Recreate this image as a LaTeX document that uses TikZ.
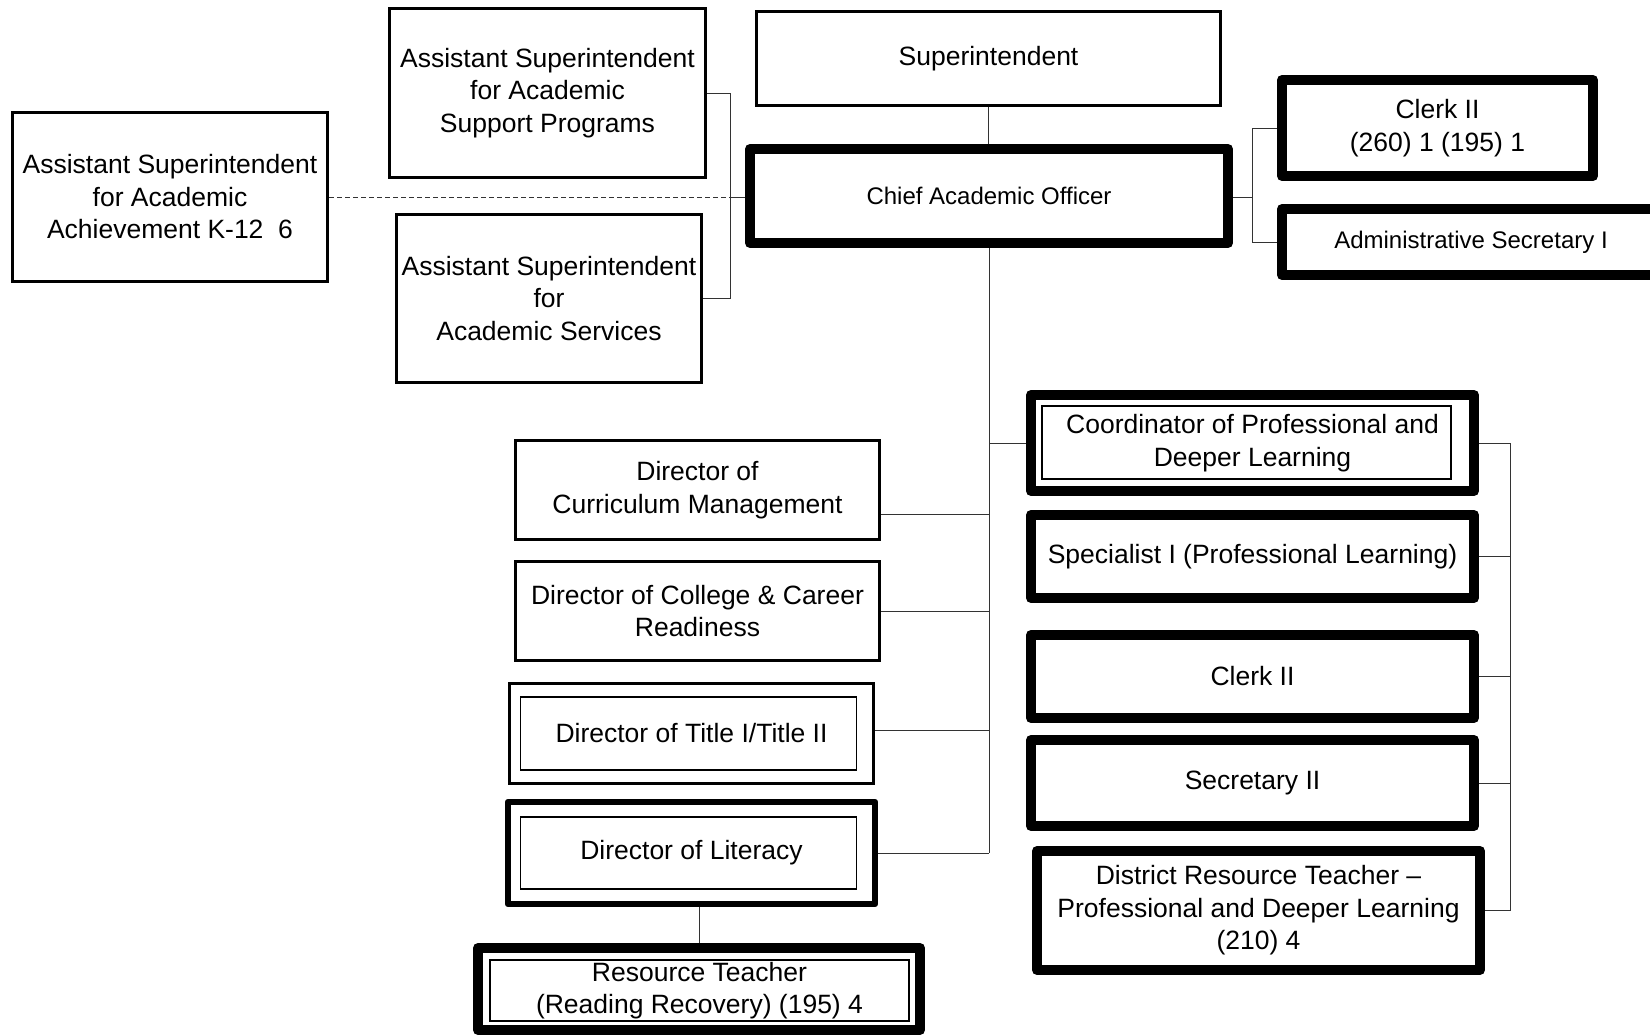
\documentclass[tikz,border=0pt]{standalone}
\usepackage{fontspec}
\setmainfont{Liberation Sans}
\newcommand\bigfnt{\fontsize{26.5}{32.5}\selectfont}
\newcommand\midfnt{\fontsize{24}{29}\selectfont}
\begin{document}
\begin{tikzpicture}[x=1pt,y=-1pt,
  box/.style={draw, inner sep=0pt, align=center, font=\bigfnt},
  thinbox/.style={box, line width=3pt},
  thickbox/.style={box, line width=10pt, line join=round},
  medbox/.style={box, line width=6.5pt, line join=round},
  inbox/.style={box, line width=1.5pt},
  conn/.style={line width=1pt, black!80}]
\useasboundingbox[fill=white] (0,0) rectangle (1650,1036);

% left / top boxes
\node[thinbox, minimum width=315.5pt, minimum height=169pt] (k12) at (170,197) {Assistant Superintendent\\for Academic\\Achievement K-12\ \ 6};
\node[thinbox, minimum width=316pt, minimum height=169pt] (assp) at (547.5,93) {Assistant Superintendent\\for Academic\\Support Programs};
\node[thinbox, minimum width=305pt, minimum height=168pt] (asas) at (549,298.5) {Assistant Superintendent\\for\\Academic Services};
\node[thinbox, minimum width=464pt, minimum height=94pt] (sup) at (988.5,58.5) {Superintendent};
\node[thickbox, minimum width=478pt, minimum height=94pt, font=\midfnt] (cao) at (989,196) {Chief Academic Officer};
\node[thickbox, minimum width=311pt, minimum height=96pt] (clk1) at (1437.5,128) {Clerk II\\(260) 1 (195) 1};
\node[thickbox, minimum width=378pt, minimum height=66pt, font=\midfnt] (adm) at (1471,242) {Administrative Secretary I};

% left column
\node[thinbox, minimum width=364pt, minimum height=99pt] (cur) at (697.5,490) {Director of\\Curriculum Management};
\node[thinbox, minimum width=364pt, minimum height=99pt] (col) at (697.5,611) {Director of College \& Career\\Readiness};
\node[inbox, minimum width=336pt, minimum height=73pt] (ttlin) at (688.5,733.5) {};
\node[thinbox, minimum width=364pt, minimum height=100pt] (ttl) at (691.5,733.5) {Director of Title I/Title II};
\node[inbox, minimum width=336pt, minimum height=72pt] (litin) at (688.5,853) {};
\node[medbox, minimum width=367pt, minimum height=102pt] (lit) at (691.5,853) {Director of Literacy};
\node[thickbox, minimum width=442pt, minimum height=82pt] (res) at (699,989) {};
\node[inbox, minimum width=419pt, minimum height=61pt] (resin) at (699.5,990.5) {Resource Teacher\\(Reading Recovery) (195) 4};

% right column
\node[inbox, minimum width=409pt, minimum height=73pt] (coordin) at (1246.5,442.5) {};
\node[thickbox, minimum width=443pt, minimum height=96pt] (coord) at (1252.5,443) {Coordinator of Professional and\\Deeper Learning};
\node[thickbox, minimum width=443pt, minimum height=83pt] (spec) at (1252.5,556.5) {Specialist I (Professional Learning)};
\node[thickbox, minimum width=443pt, minimum height=83pt] (clk2) at (1252.5,676.5) {Clerk II};
\node[thickbox, minimum width=443pt, minimum height=86pt] (sec) at (1252.5,783) {Secretary II};
\node[thickbox, minimum width=443pt, minimum height=119pt] (dist) at (1258.5,910.5) {District Resource Teacher --\\Professional and Deeper Learning\\(210) 4};

% connectors
\coordinate (lj) at (730,197);
\coordinate (rj) at (1252,197);
\coordinate (bj) at (1510,443);

\draw[conn] (sup.south) -- (sup.south |- cao.north);
\draw[conn] (assp.east) -| (lj);
\draw[conn] (asas.east) -| (lj);
\draw[conn] (cao.west |- lj) -- (lj);
\draw[conn, dash pattern=on 5pt off 3pt] (k12.east) -- (lj);

\draw[conn] (cao.east |- rj) -- (rj);
\draw[conn] (clk1.west) -| (rj);
\draw[conn] (adm.west) -| (rj);

\draw[conn] (cao.south) -- (cao.south |- lit.east);
\draw[conn] (coord.west) -- (coord.west -| cao.south);
\draw[conn] ([yshift=-24pt]cur.east) -- ([yshift=-24pt]cur.east -| cao.south);
\draw[conn] (col.east) -- (col.east -| cao.south);
\draw[conn] ([yshift=3pt]ttl.east) -- ([yshift=3pt]ttl.east -| cao.south);
\draw[conn] (lit.east) -- (lit.east -| cao.south);
\draw[conn] (res.north |- lit.south) -- (res.north);

\draw[conn] (coord.east) -- (bj) -- (bj |- dist.east) -- (dist.east);
\draw[conn] (spec.east) -- (spec.east -| bj);
\draw[conn] (clk2.east) -- (clk2.east -| bj);
\draw[conn] (sec.east) -- (sec.east -| bj);
\end{tikzpicture}
\end{document}
